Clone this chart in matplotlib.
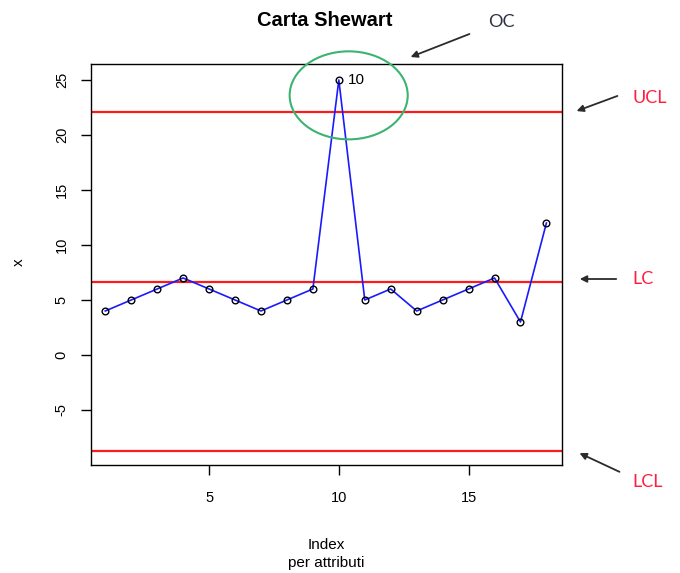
import matplotlib
matplotlib.use("Agg")
import matplotlib.pyplot as plt
from matplotlib.patches import Ellipse

idx = list(range(1, 19))
values = [4, 5, 6, 7, 6, 5, 4, 5, 6, 25, 5, 6, 4, 5, 6, 7, 3, 12]
ucl = 22.1
lc = 6.6
lcl = -8.75
xticks = [5, 10, 15]
yticks = [-5, 0, 5, 10, 15, 20, 25]

plt.rcParams['font.family'] = ['Liberation Sans', 'DejaVu Sans']
plt.rcParams['axes.unicode_minus'] = False

W, H = 680.0, 573.0
def fp(x, y):
    return (x / W, 1 - y / H)

fig = plt.figure(figsize=(6.8, 5.73), dpi=100)
ax = fig.add_axes([91 / W, 1 - 465 / H, (562 - 91) / W, (465 - 64) / H])

for v in (ucl, lc, lcl):
    ax.axhline(v, color='#ff1a1a', lw=1.6, zorder=1)

ax.plot(idx, values, color='#1a1aff', lw=1.2, zorder=2)
ax.plot(idx, values, linestyle='none', marker='o', markersize=4.8,
        markerfacecolor='none', markeredgecolor='black', markeredgewidth=1.0, zorder=3)

imax = values.index(max(values))
ax.text(idx[imax] + 0.35, values[imax], str(idx[imax]), fontsize=11,
        va='center', ha='left')

ax.set_xlim(0.45, 18.6)
ax.set_ylim(-10.0, 26.45)
ax.set_xticks(xticks)
ax.set_yticks(yticks)
ax.tick_params(axis='both', length=7, width=1, labelsize=10.5, direction='out')
ax.tick_params(axis='x', pad=12)
ax.tick_params(axis='y', pad=9)
for lab in ax.get_yticklabels():
    lab.set_rotation(90)
    lab.set_va('center')
for s in ax.spines.values():
    s.set_linewidth(1.0)

fig.text(*fp(19, 262), 'x', fontsize=11, rotation=90, ha='center', va='center')
fig.text(*fp(326, 554), 'Index\nper attributi', fontsize=11, ha='center',
         va='center', linespacing=1.4)
fig.text(*fp(325, 21), 'Carta Shewart', fontsize=14.5, fontweight='bold',
         ha='center', va='center')

ell = Ellipse((10.38, 23.6), 4.55, 8.0, fill=False, edgecolor='#3cb371',
              lw=1.5, clip_on=False, zorder=4)
ax.add_patch(ell)

arrowprops = dict(arrowstyle='-|>', color='#2b2b2b', lw=1.3, mutation_scale=10)
annots = [
    ('OC', (488, 22), (472, 33), (408, 58), '#2f3340'),
    ('UCL', (632, 98), (620, 95), (574, 112), '#ff1f3d'),
    ('LC', (632, 279), (619, 279), (577, 279), '#ff1f3d'),
    ('LCL', (632, 482), (622, 473), (577, 452), '#ff1f3d'),
]
for label, tpos, start, end, col in annots:
    fig.text(*fp(*tpos), label, color=col, fontsize=13, ha='left', va='center',
             family=['Lato', 'DejaVu Sans'])
    ax.annotate('', xy=fp(*end), xycoords='figure fraction',
                xytext=fp(*start), textcoords='figure fraction',
                arrowprops=arrowprops, annotation_clip=False)

fig.savefig('out.png', dpi=100)
